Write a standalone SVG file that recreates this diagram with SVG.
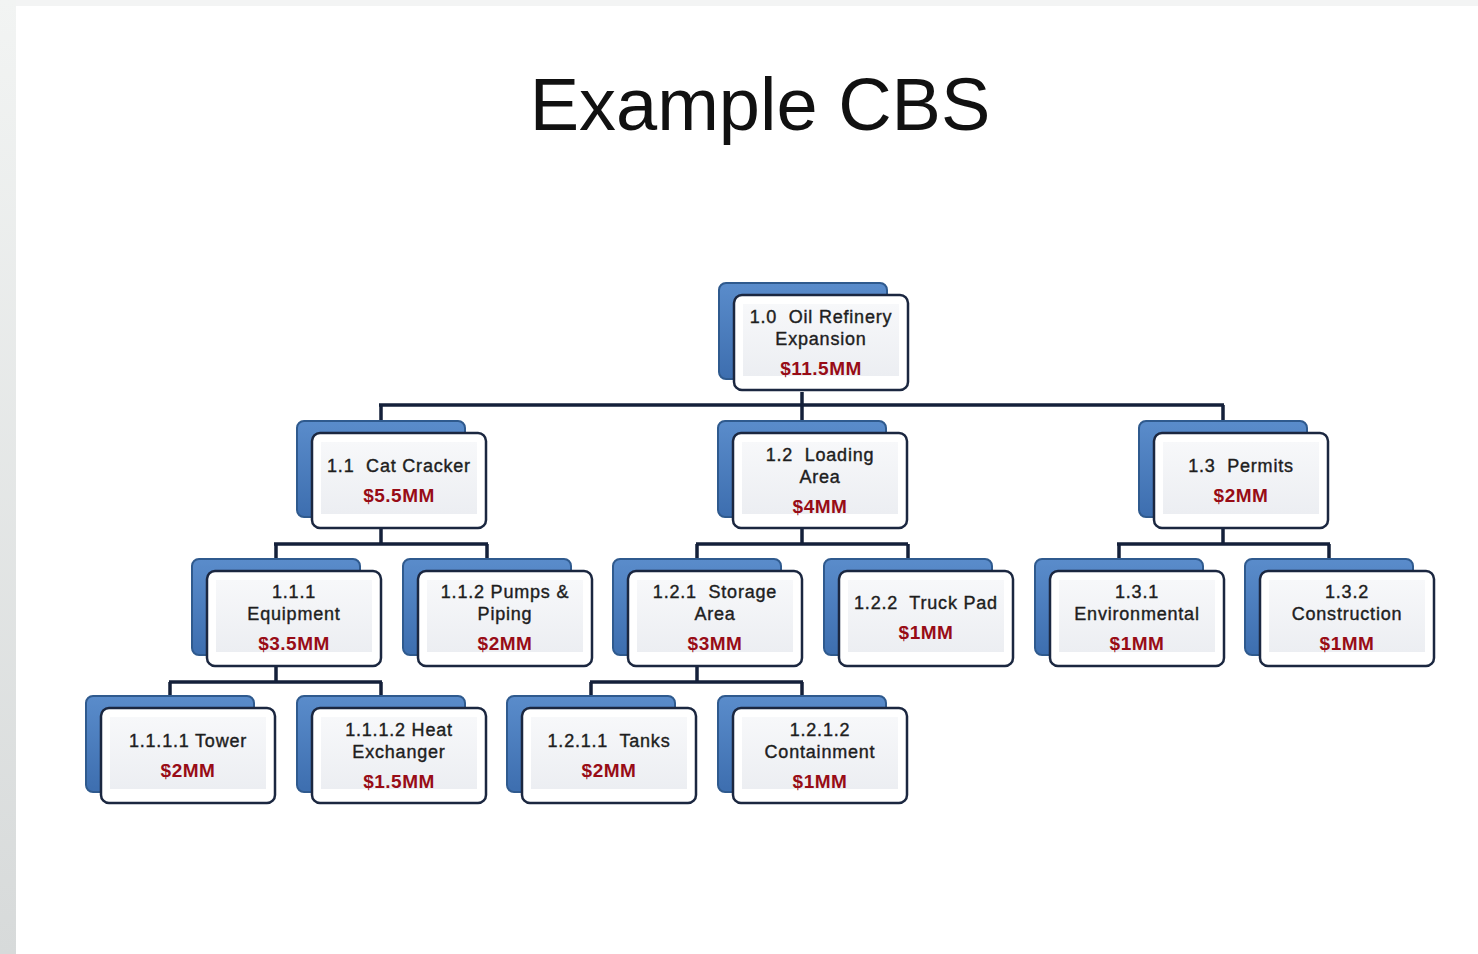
<svg xmlns="http://www.w3.org/2000/svg" width="1478" height="954" viewBox="0 0 1478 954">
<defs>
<linearGradient id="strip" x1="0" y1="0" x2="0" y2="1"><stop offset="0" stop-color="#f2f4f3"/><stop offset="1" stop-color="#d7dada"/></linearGradient>
<linearGradient id="blue" x1="0" y1="0" x2="0" y2="1"><stop offset="0" stop-color="#5a8ccb"/><stop offset="1" stop-color="#3d6eaf"/></linearGradient>
<linearGradient id="inner" x1="0" y1="0" x2="0" y2="1"><stop offset="0" stop-color="#f7f8fa"/><stop offset="1" stop-color="#eceef2"/></linearGradient>
<g id="box">
<rect x="-15" y="-12" width="168" height="96" rx="7" fill="url(#blue)" stroke="#2f5a8e" stroke-width="2"/>
<rect x="0" y="0" width="174" height="95" rx="8" fill="#ffffff" stroke="#1b2740" stroke-width="2.5"/>
<rect x="9" y="9" width="156" height="72" fill="url(#inner)"/>
</g>
</defs>
<style>
.t{font-family:"Liberation Sans",Arial,sans-serif;font-size:18px;fill:#1e1e1e;stroke:#1e1e1e;stroke-width:0.4px;text-anchor:middle;letter-spacing:0.8px;white-space:pre}
.m{font-family:"Liberation Sans",Arial,sans-serif;font-size:19px;font-weight:bold;fill:#980c16;text-anchor:middle;letter-spacing:0.5px}
.c{fill:none;stroke:#14203a;stroke-width:3.5}
</style>
<rect width="1478" height="954" fill="#ffffff"/>
<rect x="0" y="0" width="1478" height="6" fill="#f3f4f4"/>
<rect x="0" y="0" width="16" height="954" fill="url(#strip)"/>
<text x="760" y="130" font-family="'Liberation Sans',Arial,sans-serif" font-size="74" fill="#111" text-anchor="middle">Example CBS</text>
<g id="connectors">
<path class="c" d="M802 392V405M379 405H1224M381 405V421M802 405V421M1223 405V421"/>
<path class="c" d="M381 528V544M274 544H488M276 544V559M487 544V559"/>
<path class="c" d="M802 528V544M696 544H908M697 544V559M908 544V559"/>
<path class="c" d="M1223 528V544M1117 544H1330M1119 544V559M1329 544V559"/>
<path class="c" d="M276 666V682M169 682H382M170 682V696M381 682V696"/>
<path class="c" d="M697 666V682M590 682H803M591 682V696M802 682V696"/>
</g>
<g id="n1_0"><use href="#box" x="734" y="295"/><text class="t" x="821" y="323" xml:space="preserve">1.0  Oil Refinery</text><text class="t" x="821" y="345">Expansion</text><text class="m" x="821" y="375">$11.5MM</text></g>
<g id="n1_1"><use href="#box" x="312" y="433"/><text class="t" x="399" y="472" xml:space="preserve">1.1  Cat Cracker</text><text class="m" x="399" y="502">$5.5MM</text></g>
<g id="n1_2"><use href="#box" x="733" y="433"/><text class="t" x="820" y="461" xml:space="preserve">1.2  Loading</text><text class="t" x="820" y="483">Area</text><text class="m" x="820" y="513">$4MM</text></g>
<g id="n1_3"><use href="#box" x="1154" y="433"/><text class="t" x="1241" y="472" xml:space="preserve">1.3  Permits</text><text class="m" x="1241" y="502">$2MM</text></g>
<g id="n1_1_1"><use href="#box" x="207" y="571"/><text class="t" x="294" y="598">1.1.1</text><text class="t" x="294" y="620">Equipment</text><text class="m" x="294" y="650">$3.5MM</text></g>
<g id="n1_1_2"><use href="#box" x="418" y="571"/><text class="t" x="505" y="598">1.1.2 Pumps &amp;</text><text class="t" x="505" y="620">Piping</text><text class="m" x="505" y="650">$2MM</text></g>
<g id="n1_2_1"><use href="#box" x="628" y="571"/><text class="t" x="715" y="598" xml:space="preserve">1.2.1  Storage</text><text class="t" x="715" y="620">Area</text><text class="m" x="715" y="650">$3MM</text></g>
<g id="n1_2_2"><use href="#box" x="839" y="571"/><text class="t" x="926" y="609" xml:space="preserve">1.2.2  Truck Pad</text><text class="m" x="926" y="639">$1MM</text></g>
<g id="n1_3_1"><use href="#box" x="1050" y="571"/><text class="t" x="1137" y="598">1.3.1</text><text class="t" x="1137" y="620">Environmental</text><text class="m" x="1137" y="650">$1MM</text></g>
<g id="n1_3_2"><use href="#box" x="1260" y="571"/><text class="t" x="1347" y="598">1.3.2</text><text class="t" x="1347" y="620">Construction</text><text class="m" x="1347" y="650">$1MM</text></g>
<g id="n1_1_1_1"><use href="#box" x="101" y="708"/><text class="t" x="188" y="747">1.1.1.1 Tower</text><text class="m" x="188" y="777">$2MM</text></g>
<g id="n1_1_1_2"><use href="#box" x="312" y="708"/><text class="t" x="399" y="736">1.1.1.2 Heat</text><text class="t" x="399" y="758">Exchanger</text><text class="m" x="399" y="788">$1.5MM</text></g>
<g id="n1_2_1_1"><use href="#box" x="522" y="708"/><text class="t" x="609" y="747" xml:space="preserve">1.2.1.1  Tanks</text><text class="m" x="609" y="777">$2MM</text></g>
<g id="n1_2_1_2"><use href="#box" x="733" y="708"/><text class="t" x="820" y="736">1.2.1.2</text><text class="t" x="820" y="758">Containment</text><text class="m" x="820" y="788">$1MM</text></g>
</svg>
